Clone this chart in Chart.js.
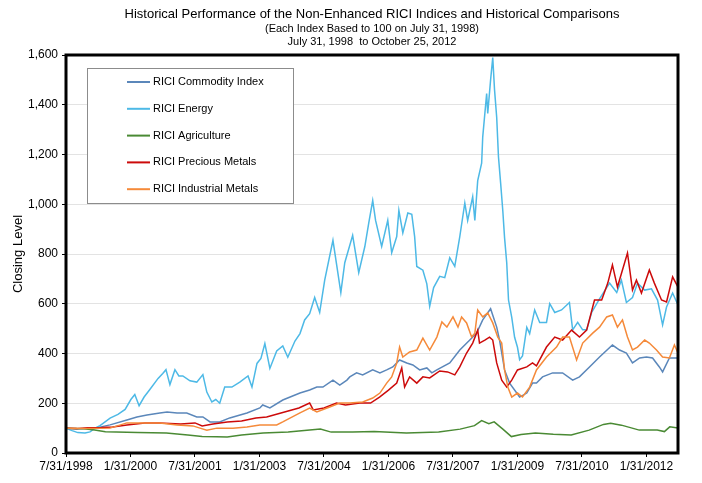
<!DOCTYPE html>
<html>
<head>
<meta charset="utf-8">
<script src="https://cdn.jsdelivr.net/npm/chart.js@4/dist/chart.umd.min.js"></script>
<style>
  html, body { margin: 0; padding: 0; background: #ffffff; }
  #wrap { width: 702px; height: 483px; position: relative; }
</style>
</head>
<body>
<div id="wrap"><canvas id="c" width="702" height="483"></canvas></div>
<script>
// ---- Titles ----
const titleLines = [
  'Historical Performance of the Non-Enhanced RICI Indices and Historical Comparisons',
  '(Each Index Based to 100 on July 31, 1998)',
  'July 31, 1998  to October 25, 2012'
];
const yAxisTitle = 'Closing Level';

// ---- X axis: months since 7/31/1998 ----
const tickMonths = [0, 18, 36, 54, 72, 90, 108, 126, 144, 162];
const tickLabels = ['7/31/1998', '1/31/2000', '7/31/2001', '1/31/2003', '7/31/2004',
                    '1/31/2006', '7/31/2007', '1/31/2009', '7/31/2010', '1/31/2012'];
const endMonth = 170.8; // 10/25/2012

// ---- Series ----
const seriesNames = ['RICI Commodity Index', 'RICI Energy', 'RICI Agriculture',
                     'RICI Precious Metals', 'RICI Industrial Metals'];

const commodityMonths = [0,3,5.3,8.1,12.3,17,19.8,22.6,26.2,28.2,31,33.7,36.5,38.2,40.2,42.9,45.7,50.5,54.1,54.9,56.9,60.5,65.3,68,70,71.7,74.5,76.4,78.4,79.2,81.1,82.8,85.6,87.6,89.5,91.2,93.1,95.1,96.8,98.7,100.7,102.1,103.5,107.1,109.9,112.7,114.6,116.3,118.5,120.2,121,122.4,123.8,126.6,128.6,130.2,131.3,133,135.8,138.6,141.4,143.3,146.1,148.9,152.5,154.5,156.4,158.1,160.1,162,163.7,165.6,166.5,168.4,170.8];
const commodityValues = [100,96,98,100,113,133,145,153,161,165,161,161,145,145,125,125,141,161,181,193,181,213,241,253,265,265,293,273,293,306,322,314,334,322,334,346,374,362,354,334,342,322,334,362,414,454,482,535,580,506,454,334,281,225,241,281,281,306,322,322,293,306,346,386,434,414,402,362,382,386,382,346,326,382,382];

const energyMonths = [0,1.7,3.3,5.3,6.7,8.1,9.5,12.3,14.5,16.5,18.1,19.2,20.4,21.8,23.4,25.7,27,27.9,29,30.4,31.5,32.6,34.6,36.5,38.2,39.3,40.7,41.8,42.9,44.3,46.3,48.5,50.8,51.9,53.3,54.4,55.5,56.9,58.8,60.5,61.9,63.9,65.3,66.6,68,69.4,70.8,72.2,74.5,75.6,76.7,77.8,80,81.7,83.4,84.5,85.6,86.4,88.1,89.8,90.9,92.3,92.9,94,95.4,96.5,97.3,97.9,99.6,100.7,101.5,102.6,104.3,105.7,107.1,108.5,109.9,111.3,112.1,113.5,114.1,114.9,116,116.3,117.4,117.7,118.5,119.1,119.6,120.2,120.7,121.3,121.9,122.4,123,123.5,124.4,125.2,126,126.6,127.4,128.6,129.4,130.8,132.2,134.1,135,136.4,138.3,140.5,141.4,142.8,144.2,145.3,146.7,148.9,151.7,153.7,155,156.4,158.1,159.5,161.5,163.4,165.1,166.5,167.6,169.3,170.8];
const energyValues = [100,90,82,80,85,100,110,140,155,175,215,235,190,225,255,300,320,335,275,335,310,310,290,285,315,245,205,215,200,265,265,285,310,265,360,380,440,340,410,430,385,450,480,535,560,625,565,695,855,750,645,765,875,725,830,925,1015,935,830,935,805,870,975,885,965,960,870,750,735,680,590,665,710,705,785,750,870,1005,935,1030,935,1095,1165,1270,1445,1365,1500,1590,1460,1350,1190,1085,975,865,765,615,545,465,425,375,390,505,480,575,525,525,600,565,575,605,495,525,495,495,565,620,683,645,695,605,625,683,655,660,615,515,587,643,595];

const agricultureMonths = [0,5,8,11,20,28,34,38,42,45,49,55,62,68,71,74,80,86,95,104,110,114,116,118,119.5,122,124.3,127,131,136,141,146,150,152,155,160,165,167,168.5,170.8];
const agricultureValues = [100,97,92,85,82,80,72,66,65,64,72,80,84,92,96,84,84,86,80,84,96,110,130,118,125,95,66,74,80,75,72,92,115,120,112,92,92,86,105,100];

const preciousMonths = [0,3,6,10,13,17,22,26,32,36,38,41,45,49,53,56,61,65,68,69,72,75.5,78,82,85,87.5,90,92.3,93.7,94.5,95.9,97.9,99.6,101.5,104.3,106.5,108.5,109.9,111.8,113.5,114.9,115.4,116.9,118.2,119.1,120.2,121.6,123,124.4,126,128.6,130.2,131.3,134.1,136.4,138.6,141.1,143.3,145.3,147.5,149.5,151.2,152.5,153.9,155.3,156.7,158.1,159.2,160.6,162.8,164.2,166.2,167.6,169.3,170.8];
const preciousValues = [100,98,102,103,105,113,121,121,117,121,109,117,125,129,141,145,165,181,201,173,181,201,193,201,201,225,253,281,342,265,306,281,306,302,330,326,314,346,402,442,494,442,454,466,454,362,293,265,293,334,346,362,350,426,466,454,494,466,494,615,615,683,756,667,736,804,655,695,643,736,683,615,607,708,667];

const industrialMonths = [0,5.3,12.3,17,19.8,26.2,31,35.4,37.4,39.3,42.1,46.6,50.5,54.1,58.8,60.5,65.3,68,70,73.6,76.4,79.2,82.8,85.6,87.6,89.5,90.9,92.3,93.1,94,95.9,97.9,99.6,101.5,103.5,104.9,106.3,108,109.4,110.4,111.8,113.2,114.1,114.9,116.3,117.7,119.1,120.5,121.6,122.4,123.3,124.4,126,127.4,129.4,131.3,134.1,136.9,138.6,140.5,142.5,144.2,147,148.9,150.9,152.5,153.9,155.3,156.7,158.1,159.5,161.5,162.8,164.8,166.5,168.4,169.8,170.8];
const industrialValues = [100,98,100,121,121,121,113,109,100,92,100,100,105,113,113,125,161,181,165,185,201,201,205,221,241,281,306,362,426,386,406,414,462,414,466,527,506,547,506,547,523,466,482,575,547,563,523,466,442,334,265,225,241,225,265,334,386,426,466,466,374,442,482,506,547,555,506,535,466,414,426,454,442,414,386,382,434,402];

const seriesColors = ['#5B87BA', '#4DB9E6', '#4A8A34', '#CC0A0A', '#F58A3A'];

function toPoints(xs, ys) { return xs.map((x, i) => ({ x: x, y: ys[i] })); }
const seriesData = [
  toPoints(commodityMonths, commodityValues),
  toPoints(energyMonths, energyValues),
  toPoints(agricultureMonths, agricultureValues),
  toPoints(preciousMonths, preciousValues),
  toPoints(industrialMonths, industrialValues)
];

const FONT = "'Liberation Sans', Arial, sans-serif";

// ---- Plugins ----
const framePlugin = {
  id: 'frame',
  afterDatasetsDraw(chart) {
    const a = chart.chartArea, ctx = chart.ctx;
    ctx.save();
    ctx.strokeStyle = '#000';
    ctx.lineWidth = 3;
    ctx.strokeRect(a.left, a.top, a.right - a.left, a.bottom - a.top);
    ctx.restore();
  }
};

const titlePlugin = {
  id: 'titles',
  afterDraw(chart) {
    const a = chart.chartArea, ctx = chart.ctx;
    const cx = (a.left + a.right) / 2;
    ctx.save();
    ctx.fillStyle = '#000';
    ctx.textAlign = 'center';
    ctx.textBaseline = 'middle';
    ctx.font = '13px ' + FONT;
    ctx.fillText(titleLines[0], cx, 14);
    ctx.font = '11px ' + FONT;
    ctx.fillText(titleLines[1], cx, 28.5);
    ctx.fillText(titleLines[2], cx, 41.5);
    ctx.restore();
  }
};

const legendPlugin = {
  id: 'boxLegend',
  afterDraw(chart) {
    const ctx = chart.ctx;
    const bx = 87.5, by = 68.5, bw = 206, bh = 135;
    ctx.save();
    ctx.fillStyle = '#fff';
    ctx.fillRect(bx, by, bw, bh);
    ctx.strokeStyle = '#8c8c8c';
    ctx.lineWidth = 1;
    ctx.strokeRect(bx, by, bw, bh);
    ctx.font = '11px ' + FONT;
    ctx.textBaseline = 'middle';
    ctx.textAlign = 'left';
    chart.data.datasets.forEach((ds, i) => {
      const y = 82 + i * 26.8;
      ctx.strokeStyle = ds.borderColor;
      ctx.lineWidth = 2;
      ctx.beginPath();
      ctx.moveTo(127, y);
      ctx.lineTo(150, y);
      ctx.stroke();
      ctx.fillStyle = '#000';
      ctx.fillText(ds.label, 153, y);
    });
    ctx.restore();
  }
};

new Chart(document.getElementById('c'), {
  type: 'line',
  data: {
    datasets: seriesNames.map((name, i) => ({
      label: name,
      data: seriesData[i],
      borderColor: seriesColors[i],
      backgroundColor: seriesColors[i],
      borderWidth: 1.5,
      pointRadius: 0,
      tension: 0,
      fill: false,
      order: 4 - i
    }))
  },
  options: {
    responsive: false,
    animation: false,
    layout: { padding: { left: 0, right: 24, top: 55, bottom: 0 } },
    plugins: {
      legend: { display: false },
      title: { display: false },
      tooltip: { enabled: false }
    },
    scales: {
      x: {
        type: 'linear',
        min: 0,
        max: endMonth,
        afterBuildTicks(scale) { scale.ticks = tickMonths.map(v => ({ value: v })); },
        afterFit(scale) { scale.height = 30; },
        ticks: {
          autoSkip: false,
          maxRotation: 0,
          padding: 2,
          color: '#000',
          font: { family: FONT, size: 12 },
          callback(v) { const k = tickMonths.indexOf(v); return k >= 0 ? tickLabels[k] : ''; }
        },
        grid: { drawOnChartArea: false, drawTicks: true, tickLength: 4, color: '#000', tickColor: '#000' },
        border: { display: false }
      },
      y: {
        min: 0,
        max: 1600,
        afterFit(scale) { scale.width = 66; },
        ticks: {
          stepSize: 200,
          padding: 4,
          color: '#000',
          font: { family: FONT, size: 12 },
          callback(v) { return v.toString().replace(/\B(?=(\d{3})+(?!\d))/g, ','); }
        },
        grid: { color: '#E3E3E3', lineWidth: 1, tickLength: 4, tickColor: '#000' },
        border: { display: false },
        title: {
          display: true,
          text: yAxisTitle,
          color: '#000',
          font: { family: FONT, size: 13 },
          padding: { top: 11, bottom: 0 }
        }
      }
    }
  },
  plugins: [framePlugin, titlePlugin, legendPlugin]
});
</script>
</body>
</html>
